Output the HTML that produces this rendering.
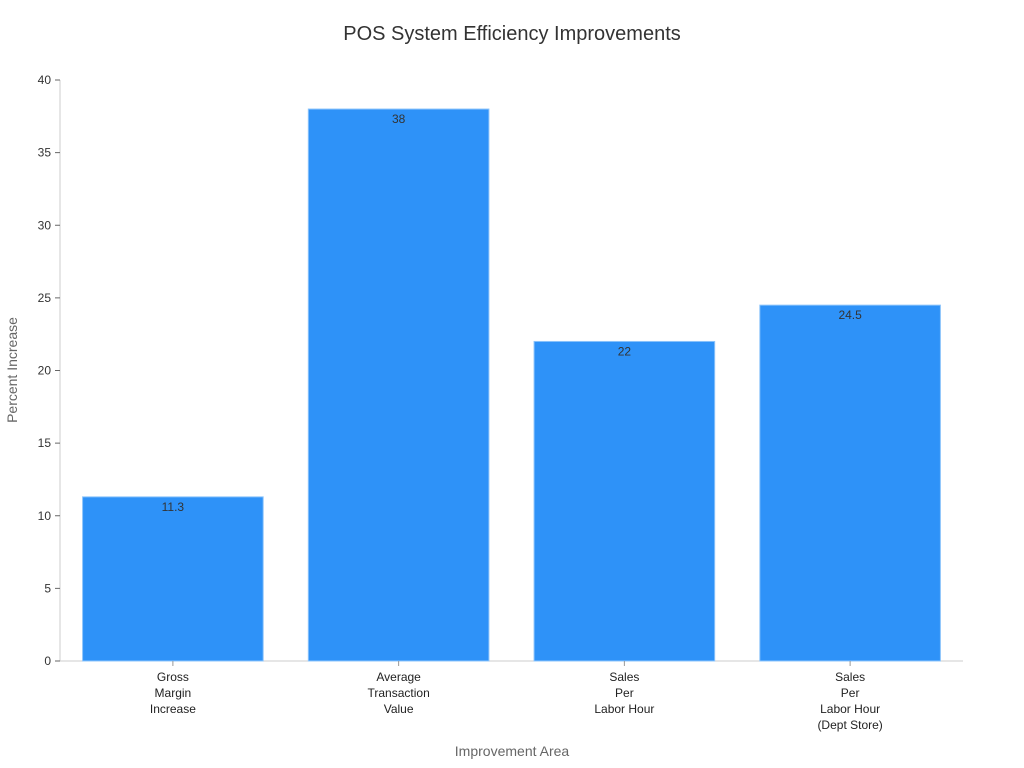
<!DOCTYPE html>
<html><head><meta charset="utf-8"><style>
html,body{margin:0;padding:0;background:#fff;}
svg{display:block;font-family:"Liberation Sans","DejaVu Sans",sans-serif;}
</style></head><body>
<svg id="chart" width="1024" height="768">
<text x="512" y="40" text-anchor="middle" font-size="20" fill="#333">POS System Efficiency Improvements</text>
<text x="512" y="756" text-anchor="middle" font-size="14" fill="#666">Improvement Area</text>
<text transform="translate(17,370) rotate(-90)" text-anchor="middle" font-size="14" fill="#666">Percent Increase</text>
<g id="grid"></g><g id="bars"></g>
</svg>
<script>
const categories = [["Gross","Margin","Increase"],["Average","Transaction","Value"],["Sales","Per","Labor Hour"],["Sales","Per","Labor Hour","(Dept Store)"]];
const values = [11.3, 38, 22, 24.5];
const valueLabels = ["11.3","38","22","24.5"];
const yTicks = [0,5,10,15,20,25,30,35,40];
const NS="http://www.w3.org/2000/svg";
const x0=60,x1=963,yBase=661,yTop=80,yMax=40;
const y=v=>yBase-(v/yMax)*(yBase-yTop);
const band=(x1-x0)/values.length;
const svg=document.getElementById('chart');
function mk(t,a,p){const e=document.createElementNS(NS,t);for(const k in a)e.setAttribute(k,a[k]);(p||svg).appendChild(e);return e;}
const g=document.getElementById('grid');
let ax=mk('line',{x1:x0,y1:yTop,x2:x0,y2:yBase,stroke:'#ccc'},g);


let bx=mk('line',{x1:x0,y1:yBase,x2:x1,y2:yBase,stroke:'#ccc'},g);


yTicks.forEach(v=>{
  const tk=mk('line',{x1:55,y1:y(v),x2:60,y2:y(v),stroke:'#666'},g);
  
  
  const t=mk('text',{x:51,y:y(v)+4,'text-anchor':'end','font-size':12,fill:'#333'},g);
  t.textContent=v;
  
  
});
const bg=document.getElementById('bars');
values.forEach((v,i)=>{
  const cx=x0+band*(i+0.5),w=band*0.8;
  const r=mk('rect',{x:cx-w/2,y:y(v),width:w,height:yBase-y(v),fill:'#2e92f8',stroke:'#8cc4fb','stroke-width':1},bg);
  
  
  const l=mk('text',{x:cx,y:y(v)+14,'text-anchor':'middle','font-size':12,fill:'#333'},bg);
  l.textContent=valueLabels[i];
  
  
  const tk=mk('line',{x1:cx,y1:yBase,x2:cx,y2:yBase+5,stroke:'#999'},bg);
  
  
  categories[i].forEach((s,j)=>{
    const t=mk('text',{x:cx,y:681+j*16,'text-anchor':'middle','font-size':12,fill:'#222'},bg);
    t.textContent=s;
    
    
  });
});
</script>
</body></html>
